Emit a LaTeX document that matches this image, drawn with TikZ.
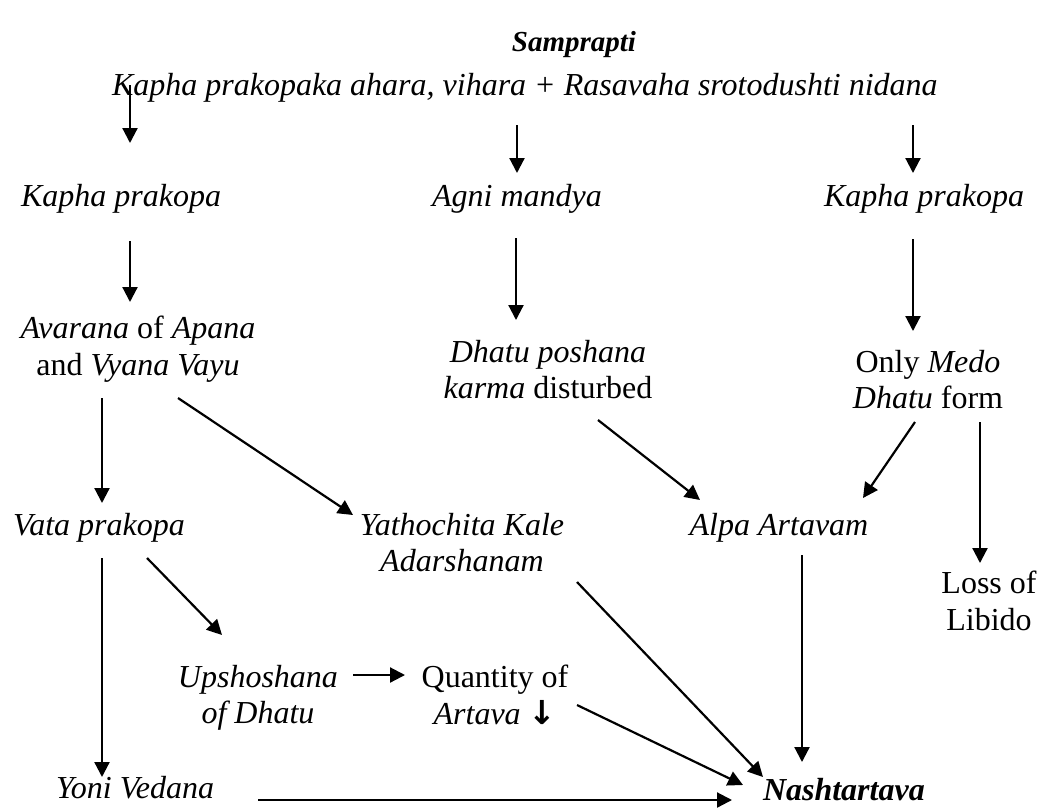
\documentclass[tikz,border=0pt]{standalone}
\usepackage{fontspec}
\setmainfont{Liberation Serif}
\newfontfamily\symfont{DejaVu Sans}
\usetikzlibrary{arrows.meta}
\begin{document}
\begin{tikzpicture}[x=1pt,y=-1pt,
  every node/.style={inner sep=0pt, outer sep=0pt, font=\fontsize{32}{36.5}\selectfont},
  lab/.style={anchor=base},
  ml/.style={anchor=north, align=center},
  arr/.style={line width=2.2pt, -{Triangle[width=15pt,length=15pt]}}]
\useasboundingbox (0,0) rectangle (1044,807);
\node[lab,font=\fontsize{29}{34}\selectfont\bfseries\itshape] (samp) at (574,51) {Samprapti};
\node[anchor=base west] (top) at (112,95) {\textit{Kapha prakopaka ahara, vihara + Rasavaha srotodushti nidana}};
\node[lab] (kl) at (121,206) {\textit{Kapha prakopa}};
\node[lab] (am) at (517,206) {\textit{Agni mandya}};
\node[lab] (kr) at (924,206) {\textit{Kapha prakopa}};
\node[ml] (ava) at (138,316) {\textit{Avarana} of \textit{Apana}\\and \textit{Vyana Vayu}};
\node[ml] (dp) at (548,340) {\textit{Dhatu poshana}\\\textit{karma} disturbed};
\node[ml] (om) at (928,350) {Only \textit{Medo}\\\textit{Dhatu} form};
\node[lab] (vp) at (99,535) {\textit{Vata prakopa}};
\node[ml] (yk) at (462,513) {\textit{Yathochita Kale}\\\textit{Adarshanam}};
\node[lab] (aa) at (779,535) {\textit{Alpa Artavam}};
\node[ml] (ll) at (989,571) {Loss of\\Libido};
\node[ml] (up) at (258,665) {\textit{Upshoshana}\\\textit{of Dhatu}};
\node[ml] (qa) at (495,665) {Quantity of\\\textit{Artava} {\symfont\bfseries\fontsize{33}{36}\selectfont ↓}};
\node[lab] (yv) at (135,798) {\textit{Yoni Vedana}};
\node[anchor=base west] (na) at (763,800) {\textbf{\textit{Nashtartava}}};
\draw[arr] ([shift={(18,-10)}]top.base west) -- ([shift={(9,-63)}]kl.base);
\draw[arr] ([shift={(405,30)}]top.base west) -- ([shift={(0,-33)}]am.base);
\draw[arr] ([shift={(801,30)}]top.base west) -- ([shift={(-11,-33)}]kr.base);
\draw[arr] ([shift={(9,35)}]kl.base) -- ([shift={(-8,-14)}]ava.north);
\draw[arr] ([shift={(-36,82)}]ava.north) -- ([shift={(3,-32)}]vp.base);
\draw[arr] ([shift={(40,82)}]ava.north) -- ([shift={(-109,2)}]yk.north);
\draw[arr] ([shift={(-1,32)}]am.base) -- ([shift={(-32,-20)}]dp.north);
\draw[arr] ([shift={(-11,33)}]kr.base) -- ([shift={(-15,-19)}]om.north);
\draw[arr] ([shift={(50,80)}]dp.north) -- ([shift={(-79,-35)}]aa.base);
\draw[arr] ([shift={(-13,72)}]om.north) -- ([shift={(84,-37)}]aa.base);
\draw[arr] ([shift={(52,72)}]om.north) -- ([shift={(-9,-8)}]ll.north);
\draw[arr] ([shift={(3,23)}]vp.base) -- ([shift={(-33,-21)}]yv.base);
\draw[arr] ([shift={(48,23)}]vp.base) -- ([shift={(-36,-30)}]up.north);
\draw[arr] ([shift={(115,69)}]yk.north) -- ([shift={(0,-23)}]na.base west);
\draw[arr] ([shift={(23,20)}]aa.base) -- ([shift={(39,-38)}]na.base west);
\draw[arr] ([shift={(95,10)}]up.north) -- ([shift={(-90,10)}]qa.north);
\draw[arr] ([shift={(82,40)}]qa.north) -- ([shift={(-20,-15)}]na.base west);
\draw[arr] ([shift={(123,2)}]yv.base) -- ([shift={(-31,0)}]na.base west);
\end{tikzpicture}
\end{document}
